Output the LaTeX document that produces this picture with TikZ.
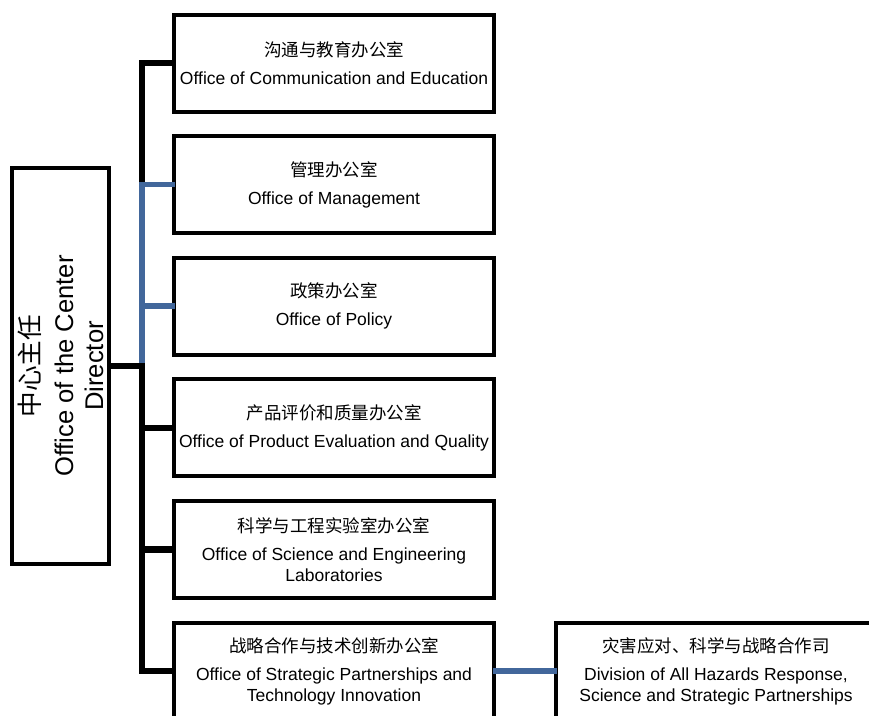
\documentclass[tikz,border=0pt]{standalone}
\usepackage{fontspec}
\setmainfont{Liberation Sans}
\newfontfamily\cjk{Noto Sans CJK SC}
\definecolor{linkblue}{RGB}{66,103,155}
\begin{document}
\begin{tikzpicture}[x=1pt,y=-1pt,
    office/.style={draw,line width=4pt,rectangle,minimum width=320pt,minimum height=97pt,inner sep=0pt,align=center,font=\fontsize{17.5}{21}\selectfont},
    head/.style={draw,line width=4pt,rectangle,rotate=90,minimum width=396pt,minimum height=97pt,inner sep=0pt,align=center,font=\fontsize{25.6}{30}\selectfont},
    trunk/.style={line width=6.5pt,line cap=rect,line join=miter},
    tie/.style={line width=5.5pt,line cap=rect,line join=miter,draw=linkblue}]
            \clip (0,0) rectangle (869,715);
            \node[head] (dir) at (60.5,366) {{\cjk 中心主任}\\[4pt]Office of the Center\\Director};
            \node[office] (comm) at (334,63) {{\cjk 沟通与教育办公室}\\[7pt]Office of Communication and Education};
            \node[office] (mgmt) at (334,184.6) {{\cjk 管理办公室}\\[7pt]Office of Management};
            \node[office] (pol) at (334,306.2) {{\cjk 政策办公室}\\[7pt]Office of Policy};
            \node[office] (peq) at (334,427.8) {{\cjk 产品评价和质量办公室}\\[7pt]Office of Product Evaluation and Quality};
            \node[office] (sel) at (334,549.4) {{\cjk 科学与工程实验室办公室}\\[7pt]Office of Science and Engineering\\Laboratories};
            \node[office] (spti) at (334,671) {{\cjk 战略合作与技术创新办公室}\\[7pt]Office of Strategic Partnerships and\\Technology Innovation};
            \node[office] (ahr) at (716,671) {{\cjk 灾害应对、科学与战略合作司}\\[7pt]Division of All Hazards Response,\\Science and Strategic Partnerships};
            \coordinate (t) at (142,0);
            \draw[trunk] (comm.west)--(t|-comm.west)--(t|-mgmt.west);
            \draw[tie] (mgmt.west)--(t|-mgmt.west)--(t|-dir.south) (pol.west)--(t|-pol.west) (spti.east)--(ahr.west);
            \draw[trunk] (dir.south)--(t|-dir.south)--(t|-spti.west)--(spti.west) (peq.west)--(t|-peq.west) (sel.west)--(t|-sel.west);
          \end{tikzpicture}
\end{document}
